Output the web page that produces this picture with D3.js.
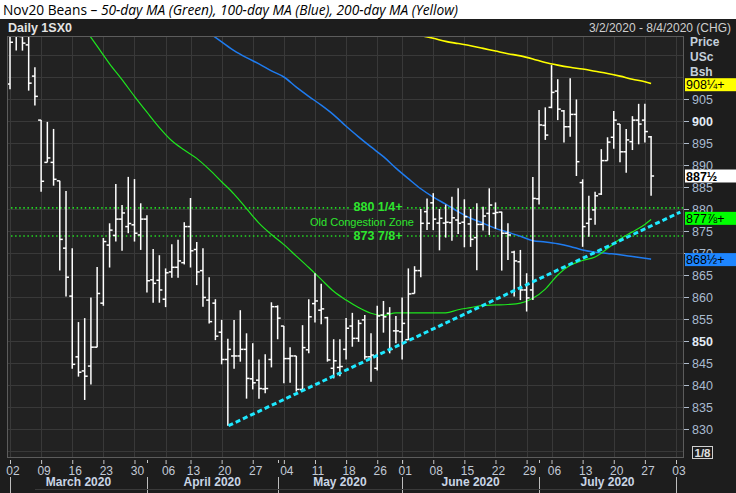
<!DOCTYPE html>
<html><head><meta charset="utf-8">
<script src="https://cdn.jsdelivr.net/npm/d3@7"></script>
<style>body{margin:0;background:#fff}svg{display:block}</style>
</head><body><svg id="c" width="736" height="493"></svg>
<script>
// ---------- DATA ----------
// trading-day index 0 = Mar 2 2020 ... 103 = Jul 28 2020
const opens  = [908.4,921,919.2,917.3,910.2,900.2,890.6,890.6,886.4,871.1,860.2,846.4,843.2,844.3,848.6,858.6,871.8,874,877.7,876,876.4,874.1,877.7,863.9,863.8,859.5,865.7,866.75,867.8,876,870.8,866,859.3,858.6,852,845.8,846.6,846.6,848.1,841.4,841.1,839.1,845.8,857.8,853.4,846,846.6,839,848,858.5,857,855.3,843.8,844,848.1,853.4,850.6,854.8,846.4,843.8,855.9,856.3,852.3,852.1,850.3,860.8,866,879.4,881.4,876.8,876.8,876.9,877.5,877,876.6,873.5,876.5,879,879,879.3,874.5,870.2,868,861.6,861.6,882.3,899,903.1,906.8,902.3,898.7,901.5,886,876.75,879.8,883.4,891,896.3,899.3,893,895.3,900.2,900.2,896.4];
const highs  = [920.5,922,920.5,920,912.2,900.2,899.8,898.2,886.4,884.1,871.1,854.3,855.2,859.9,866.8,873.4,876.75,885.7,880.9,887.3,886.8,881.3,878.6,870.9,869.5,866.5,872,873,877,882.5,872.5,871.1,864.5,859.5,854.8,850.5,854.8,857,851.75,849.5,845.8,847,858.8,858.1,853.4,848.6,846.6,853.6,859.5,865.4,863,855.5,850.4,850.4,855.2,856.4,854.8,855.9,851.75,858,859.1,857.7,855.7,859.9,866.5,867,880,882.4,883.6,880,881,882.8,884.7,882.2,880,881.3,880.5,884.7,881.5,879.4,876.75,870.5,870.7,865.4,887.3,902.5,903.1,912.7,909.5,902.5,909.7,904.9,886.75,883,883.9,893.6,896.3,902.3,899.3,898.2,901.1,903.9,903.9,896.6];
const lows   = [907.2,916,916,906.9,903.5,883.9,890.6,885.3,866,860.1,843.7,841.9,836.6,840.1,848.6,858,866.7,872.6,870.5,874.5,872.6,870.7,861,858.7,858.7,857.7,864.4,864.4,867.4,866.7,862.7,857.8,854,850.2,844.7,830.75,843.7,845.3,836.9,839,836.9,838.1,844,850.4,840.4,840.5,838.5,838.9,847.2,854.2,853.8,845.3,841.5,842,845.8,848.7,849.8,845.8,840.75,843.3,851.9,847.2,849.5,845.8,850.2,860.8,864.5,875.2,875.2,870.6,873.5,872.8,874.3,871.3,871.4,866.1,875.1,874.1,875.5,866,868.4,860.1,859.3,856.7,859.3,881,895.7,902.9,900.2,895.1,896.4,887.5,871.4,873.7,876.4,883.2,891,893.7,890.6,888.25,893.4,894.7,895.1,883];
const closes = [917.9,920,917.7,908.6,905.6,886.3,891.6,886.75,873.1,864.5,844.7,842.9,842,848.6,860.8,872.6,875.2,877.7,879.1,876.7,874.5,877.7,863.7,863.1,861.6,865.5,866.75,868.2,876,870.5,865.7,859.9,854.4,851.1,845.8,848.1,846.6,848.1,841.5,840.5,839.2,839.2,857.8,855.2,846,846.6,839,848.5,855.5,859.1,857.3,845.7,845.5,844.2,852.9,850.6,854,846.4,846.8,855.7,855.5,848.1,852.3,854,860.7,866,876.75,876.75,877.7,877.9,877,878,876.75,878.25,873.1,876.5,878.4,880.9,879.2,874.5,874.1,868.2,861.6,859.8,882.4,899.1,896.8,906.5,902.7,898.7,901.5,890.75,876,877.7,883,891,895.2,900.2,893,895.7,900.2,899.3,897.6,887.5];

// moving averages: [trading-day index, value]
const ma50  = [[12,921],[14,917],[16,913],[18,909.4],[20,905.6],[22,902],[24,898.5],[26,895.5],[28,893.4],[30,891.5],[32,889],[34,886.2],[36,883.4],[38,880.1],[40,876.8],[42,874.2],[44,871.9],[46,869.3],[48,866.7],[50,864],[52,861.3],[54,859.3],[56,857.6],[58,856.3],[60,855.8],[62,856.4],[64,856.4],[66,856.4],[68,856.4],[70,856.4],[72,857.1],[74,857.6],[76,858.1],[78,858.2],[80,858.3],[82,858.6],[84,859.7],[86,861.8],[88,865],[90,867.2],[92,868.3],[94,869.1],[96,871],[98,873.2],[100,874.8],[102,876.5],[103,877.6]];
const ma100 = [[32,920],[34,918],[36,916],[38,914.4],[40,913],[42,911.4],[44,910],[46,907.7],[48,905.6],[50,903.6],[52,901.4],[54,898.8],[56,896.4],[58,894.1],[60,891.9],[62,889.3],[64,886.9],[66,884.6],[68,882.7],[70,881.1],[72,879.4],[74,877.9],[76,876.8],[78,875.6],[80,874.7],[82,873.8],[84,872.8],[86,872.5],[88,872.1],[90,871.5],[92,870.7],[94,870.2],[96,869.9],[98,869.6],[100,869.2],[102,868.8],[103,868.6]];
const ma200 = [[64,920],[66,919.4],[68,918.8],[70,918.1],[72,917.6],[74,917.1],[76,916.5],[78,915.9],[80,915.3],[82,914.8],[84,914.1],[86,913.3],[88,912.7],[90,912.2],[92,911.8],[94,911.3],[96,910.8],[98,910.2],[100,909.5],[102,908.9],[103,908.5]];

const trendLine = [[35.1,830.75],[107.7,879.3]];
const zoneLevels = [880.25, 873.875];
const zoneLabels = ["880 1/4+", "873 7/8+"];
const zoneTitle = "Old Congestion Zone";

const priceTicks = [830,835,840,845,850,855,860,865,870,875,880,885,890,895,900,905];
const boldTicks = [850,900];
const weekIdx = [0,5,10,15,20,25,29,34,39,44,49,54,59,63,68,73,78,83,87,92,97,102,107];
const weekLabels = ["02","09","16","23","30","06","13","20","27","04","11","18","26","01","08","15","22","29","06","13","20","27","03"];
const monthIdx = [0,22,43,63,85,107];
const monthLabels = ["March 2020","April 2020","May 2020","June 2020","July 2020"];

// last-value markers
const markerValues = [908.25, 887.5, 877.875, 868.5];
const markerLabels = ["908¼+","887½","877⅞+","868½+"];
const markerFill   = ["#ffff00","#ffffff","#00ff00","#1e86ff"];

// ---------- DRAW ----------
const svg = d3.select("#c");
const L = 7, T = 36, R = 684, B = 458;
const x = d3.scaleLinear().domain([0,107]).range([10,676]);
const y = d3.scaleLinear().domain([830,900]).range([429,121]);
const FF = "Liberation Sans, Arial, sans-serif";

// title
const title = svg.append("text").attr("x",3).attr("y",15)
  .attr("font-family","Open Sans, sans-serif").attr("font-size",14).attr("fill","#000")
  .attr("textLength",455).attr("lengthAdjust","spacingAndGlyphs");
title.append("tspan").text("Nov20 Beans – ");
title.append("tspan").attr("font-style","italic").text("50-day MA (Green), 100-day MA (Blue), 200-day MA (Yellow)");

// panel
svg.append("rect").attr("x",0).attr("y",19).attr("width",736).attr("height",474).attr("fill","#1d1d1d");
svg.append("text").attr("x",8).attr("y",32).attr("font-family",FF)
  .attr("font-weight","bold").attr("font-size",12.5).attr("fill","#e4e4e4").text("Daily 1SX0");
svg.append("text").attr("x",731).attr("y",32).attr("text-anchor","end").attr("font-family",FF)
  .attr("font-size",12).attr("fill","#cfcfcf").text("3/2/2020 - 8/4/2020 (CHG)");

svg.append("rect").attr("x",L).attr("y",T).attr("width",R-L).attr("height",B-T).attr("fill","#222222");

svg.append("defs").append("clipPath").attr("id","clip").append("rect")
  .attr("x",L).attr("y",T).attr("width",R-L).attr("height",B-T);
const plot = svg.append("g").attr("clip-path","url(#clip)");

// grid
const gridVals = d3.range(825,920,5);
plot.selectAll(".hg").data(gridVals).join("line")
  .attr("x1",L).attr("x2",R).attr("y1",d=>Math.round(y(d))+0.5).attr("y2",d=>Math.round(y(d))+0.5)
  .attr("stroke","#393939").attr("stroke-width",1);
plot.selectAll(".vg").data(weekIdx).join("line")
  .attr("x1",d=>Math.round(x(d))+0.5).attr("x2",d=>Math.round(x(d))+0.5).attr("y1",T).attr("y2",B)
  .attr("stroke","#393939").attr("stroke-width",1);

// zone dotted lines
const gapL = 349, gapR = 407;
zoneLevels.forEach(v=>{
  [[11,gapL],[gapR,R]].forEach(seg=>{
    plot.append("line").attr("x1",seg[0]).attr("x2",seg[1]).attr("y1",y(v)).attr("y2",y(v))
      .attr("stroke","#22d822").attr("stroke-width",1.6).attr("stroke-dasharray","1.5,2.6");
  });
});

// moving averages
const line = d3.line().x(d=>x(d[0])).y(d=>y(d[1])).curve(d3.curveMonotoneX);
plot.append("path").attr("d",line(ma200)).attr("fill","none").attr("stroke","#ffff00").attr("stroke-width",1.6);
plot.append("path").attr("d",line(ma100)).attr("fill","none").attr("stroke","#1f7cf0").attr("stroke-width",1.5);
plot.append("path").attr("d",line(ma50)).attr("fill","none").attr("stroke","#1ee61e").attr("stroke-width",1.2);

// OHLC bars
const bars = plot.append("g").attr("stroke","#ffffff").attr("stroke-width",1.5);
opens.forEach((o,i)=>{
  const xi = x(i);
  bars.append("line").attr("x1",xi).attr("x2",xi).attr("y1",y(highs[i])).attr("y2",y(lows[i]));
  bars.append("line").attr("x1",xi-3).attr("x2",xi).attr("y1",y(o)).attr("y2",y(o));
  bars.append("line").attr("x1",xi).attr("x2",xi+3).attr("y1",y(closes[i])).attr("y2",y(closes[i]));
});

// trend line
plot.append("line").attr("x1",x(trendLine[0][0])).attr("y1",y(trendLine[0][1]))
  .attr("x2",x(trendLine[1][0])).attr("y2",y(trendLine[1][1]))
  .attr("stroke","#1ee8ff").attr("stroke-width",3).attr("stroke-dasharray","5,3");

// zone texts
svg.append("text").attr("x",378).attr("y",y(zoneLevels[0])+3).attr("text-anchor","middle")
  .attr("font-family",FF).attr("font-weight","bold").attr("font-size",12.5).attr("fill","#2ee62e").text(zoneLabels[0]);
svg.append("text").attr("x",362).attr("y",y((zoneLevels[0]+zoneLevels[1])/2)+4).attr("text-anchor","middle")
  .attr("font-family",FF).attr("font-size",11).attr("fill","#2ee62e").text(zoneTitle);
svg.append("text").attr("x",378).attr("y",y(zoneLevels[1])+4).attr("text-anchor","middle")
  .attr("font-family",FF).attr("font-weight","bold").attr("font-size",12.5).attr("fill","#2ee62e").text(zoneLabels[1]);

// plot border
svg.append("rect").attr("x",L+0.5).attr("y",T+0.5).attr("width",R-L-1).attr("height",B-T-1)
  .attr("fill","none").attr("stroke","#5c5c5c");

// right axis
const yAxis = svg.append("g").attr("transform",`translate(${R},0)`)
  .call(d3.axisRight(y).tickValues(priceTicks).tickSize(5).tickPadding(3));
yAxis.select(".domain").remove();
yAxis.selectAll(".tick line").attr("stroke","#b0bccb");
yAxis.selectAll(".tick text").attr("font-family",FF).attr("font-size",12.5)
  .attr("fill",d=>boldTicks.includes(d)?"#e2ebf5":"#a9bbd0")
  .attr("font-weight",d=>boldTicks.includes(d)?"bold":"normal");

["Price","USc","Bsh"].forEach((t,k)=>{
  svg.append("text").attr("x",690).attr("y",46+k*15).attr("font-family",FF)
    .attr("font-weight","bold").attr("font-size",12).attr("fill","#c4cfdb").text(t);
});

// last value markers
markerValues.forEach((v,k)=>{
  const cy = y(v);
  svg.append("rect").attr("x",R+1).attr("y",cy-6.5).attr("width",736-R-1).attr("height",13).attr("fill",markerFill[k]);
  svg.append("text").attr("x",R+2).attr("y",cy+4.5).attr("font-family",FF)
    .attr("font-size",12.5).attr("fill","#000").attr("font-weight",k===1?"bold":"normal")
    .text(markerLabels[k]);
});

// 1/8 box
svg.append("rect").attr("x",692.5).attr("y",446.5).attr("width",20).attr("height",12).attr("fill","none").attr("stroke","#cfcfcf");
svg.append("text").attr("x",702.5).attr("y",456.5).attr("text-anchor","middle").attr("font-family",FF)
  .attr("font-weight","bold").attr("font-size",11.5).attr("fill","#e0e0e0").text("1/8");

// bottom axis
const xAxis = svg.append("g").attr("transform",`translate(0,${B})`)
  .call(d3.axisBottom(x).tickValues(weekIdx).tickFormat((d,i)=>weekLabels[i]).tickSize(6).tickPadding(2));
xAxis.select(".domain").remove();
xAxis.selectAll(".tick line").attr("y1",2).attr("stroke","#c8c8c8");
xAxis.selectAll(".tick text").attr("x",2.5).attr("font-family",FF)
  .attr("font-size",12).attr("fill","#c2cad6");
// month minor ticks
svg.selectAll(".mt").data(monthIdx.slice(1,5)).join("line")
  .attr("x1",d=>Math.round(x(d))+0.5).attr("x2",d=>Math.round(x(d))+0.5).attr("y1",B+2).attr("y2",B+5)
  .attr("stroke","#c8c8c8");
// month separators & labels
svg.selectAll(".ms").data(monthIdx).join("line")
  .attr("x1",d=>Math.round(x(d))+0.5).attr("x2",d=>Math.round(x(d))+0.5).attr("y1",477).attr("y2",493)
  .attr("stroke","#bdbdbd");
svg.selectAll(".ml").data(monthLabels).join("text")
  .attr("x",(d,i)=>(x(monthIdx[i])+x(monthIdx[i+1]))/2).attr("y",486).attr("text-anchor","middle")
  .attr("font-family",FF).attr("font-weight","bold").attr("font-size",12)
  .attr("fill","#c9d5e5").text(d=>d);
svg.append("line").attr("x1",35).attr("x2",620).attr("y1",489.5).attr("y2",489.5).attr("stroke","#3a3a3a");
</script></body></html>
